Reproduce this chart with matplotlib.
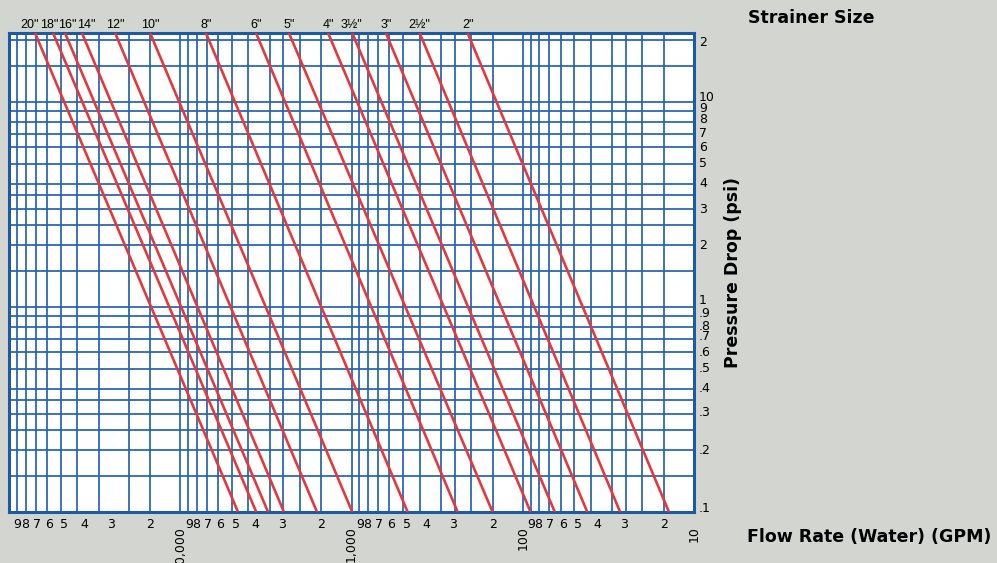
import matplotlib
matplotlib.use('Agg')
import matplotlib.pyplot as plt
from matplotlib.ticker import NullLocator

# strainer sizes and where each red line enters the top and leaves the bottom
sizes = ['20"', '18"', '16"', '14"', '12"', '10"', '8"', '6"', '5"', '4"', '3½"', '3"', '2½"', '2"']
q_top = [70500, 55300, 47100, 37500, 24000, 15000, 7080, 3610, 2320, 1370, 990, 630, 400, 210]
q_bottom = [4600, 3600, 3070, 2480, 1590, 990, 470, 240, 150, 90, 65, 42, 27, 14]
p_top = 21.7
p_bottom = 0.1
label_q = [75400, 58400, 45800, 35500, 24000, 15000, 7080, 3610, 2320, 1370, 1000, 630, 400, 210]

# flow axis labels (digits inside each decade, plus the decade values)
x_digits = ['9', '8', '7', '6', '5', '4', '3', '2']
x_digit_pos = [8.9, 8.1, 6.9, 5.85, 4.75, 3.65, 2.55, 1.5]
x_decades = [10, 100, 1000, 10000]
x_decade_labels = ['10', '100', '1,000', '10,000']

# pressure axis labels
y_vals = [20, 10, 9, 8, 7, 6, 5, 4, 3, 2, 1, .9, .8, .7, .6, .5, .4, .3, .2, .1]
y_labels = ['2', '10', '9', '8', '7', '6', '5', '4', '3', '2', '1',
            '.9', '.8', '.7', '.6', '.5', '.4', '.3', '.2', '.1']
# small vertical shifts of the printed labels (pixels)
y_nudge = [-2, 4, 3, 2, 0, 0, 0, 0, 0, 0, 6, 3, 0, 2, 0, 0, 0, 2, 0, 4]

grid_blue = '#2463ad'
red = '#e5383c'

fig = plt.figure(figsize=(9.97, 5.63), dpi=100, facecolor='#d3d5d1')
ax = fig.add_axes([9 / 997, 51 / 563, 685 / 997, 479 / 563])
ax.set_xscale('log')
ax.set_yscale('log')
ax.set_xlim(1e5, 10)
ax.set_ylim(p_bottom, p_top)
ax.set_facecolor('white')
for axis in (ax.xaxis, ax.yaxis):
    axis.set_major_locator(NullLocator())
    axis.set_minor_locator(NullLocator())

# grid
for d in [10, 100, 1000, 10000]:
    mults = [1, 1.5, 2, 2.5, 3, 4, 5, 6, 7, 8, 9]
    if d == 10000:
        mults = [1, 1.5, 2, 3, 4, 5, 6, 7, 8, 9]
    for m in mults:
        ax.axvline(d * m, color=grid_blue, lw=1.25, zorder=1)
for d in [0.1, 1]:
    for m in [1, 1.5, 2, 2.5, 3, 3.5, 4, 5, 6, 7, 8, 9]:
        ax.axhline(d * m, color=grid_blue, lw=1.25, zorder=1)
for v in [10, 15, 20]:
    ax.axhline(v, color=grid_blue, lw=1.25, zorder=1)

for s in ax.spines.values():
    s.set_color('#1c5aa6')
    s.set_linewidth(2.2)

# strainer curves
for i in range(len(sizes)):
    ax.plot([q_top[i], q_bottom[i]], [p_top, p_bottom], color=red, lw=1.9,
            solid_capstyle='butt', zorder=3)
    ax.text(label_q[i], 1.0104, sizes[i], transform=ax.get_xaxis_transform(),
            ha='center', va='baseline', fontsize=9, family='Liberation Sans')

# bottom labels
for d in x_decades:
    for lab, pos in zip(x_digits, x_digit_pos):
        ax.text(d * pos, -0.0334, lab, transform=ax.get_xaxis_transform(),
                ha='center', va='baseline', fontsize=9)
for d, lab in zip(x_decades, x_decade_labels):
    ax.text(d, -0.03, lab, transform=ax.get_xaxis_transform(), rotation=90,
            ha='center', va='top', fontsize=9)

# right labels
for v, lab, dy in zip(y_vals, y_labels, y_nudge):
    ax.annotate(lab, xy=(1, v), xycoords=('axes fraction', 'data'),
                xytext=(5, dy), textcoords='offset pixels',
                ha='left', va='center', fontsize=9)

fig.text(748 / 997, 1 - 18 / 563, 'Strainer Size', fontsize=12.5,
         fontweight='bold', ha='left', va='center')
fig.text(733 / 997, 1 - 272 / 563, 'Pressure Drop (psi)', fontsize=12.5,
         fontweight='bold', rotation=90, ha='center', va='center')
fig.text(747 / 997, 1 - 537 / 563, 'Flow Rate (Water) (GPM)', fontsize=12.5,
         fontweight='bold', ha='left', va='center')

fig.savefig('out.png', dpi=100, facecolor=fig.get_facecolor())
